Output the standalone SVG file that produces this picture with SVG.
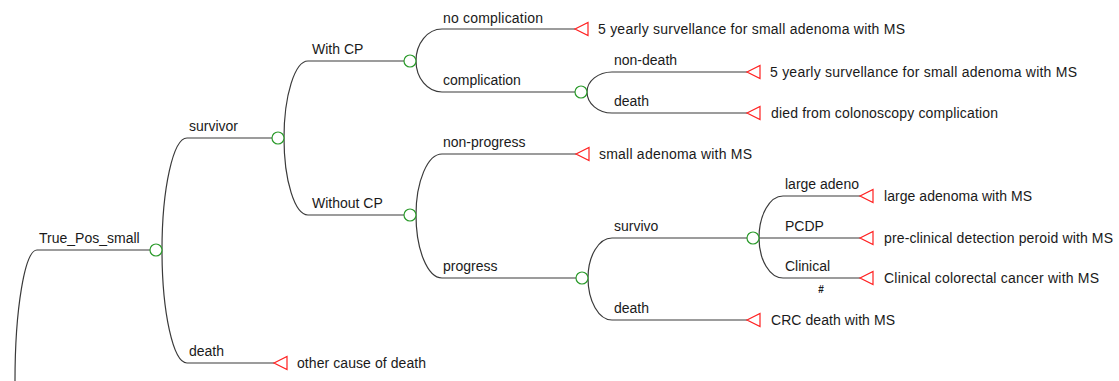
<svg xmlns="http://www.w3.org/2000/svg" width="1119" height="381" viewBox="0 0 1119 381">
<style>
.e{fill:none;stroke:#3a3a3a;stroke-width:1.2}
.c{fill:#fff;stroke:#2a9a2a;stroke-width:1.2}
.t{fill:#fff;stroke:#ff2020;stroke-width:1.2}
text{font-family:"Liberation Sans",Arial,sans-serif;font-size:14px;fill:#1a1a1a}
.h{font-size:10px;font-weight:bold;text-anchor:middle}
</style>
<defs>
<circle id="chance" r="6" class="c"/>
<path id="term" d="M0,0 L13,-6.5 L13,6.5 Z" class="t"/>
</defs>
<rect width="1119" height="381" fill="#fff"/>
<g id="connectors">
<path class="e" d="M15,381 C15,308.7 24.9,250 37,250 L150,250"/>
<path class="e" d="M162,250 C162,188.2 173.2,138 187,138 L272,138"/>
<path class="e" d="M162,250 C162,312.4 173.2,363 187,363 L274,363"/>
<path class="e" d="M284,138 C284,95.5 294.8,61 308,61 L404,61"/>
<path class="e" d="M284,138 C284,180.5 294.8,215 308,215 L404,215"/>
<path class="e" d="M416,61 C416,43.3 427.6,29 442,29 L575,29"/>
<path class="e" d="M416,61 C416,78.1 427.6,92 442,92 L575,92"/>
<path class="e" d="M587,92 C587,81 598.2,72 612,72 L747,72"/>
<path class="e" d="M587,92 C587,103.6 598.2,113 612,113 L747,113"/>
<path class="e" d="M416,215 C416,181.3 427.6,154 442,154 L576,154"/>
<path class="e" d="M416,215 C416,249.8 427.6,278 442,278 L576,278"/>
<path class="e" d="M588,278 C588,255.9 598.8,238 612,238 L747,238"/>
<path class="e" d="M588,278 C588,301.2 598.8,320 612,320 L747,320"/>
<path class="e" d="M759,238 C759,214.8 769.8,196 783,196 L860,196"/>
<path class="e" d="M759,238 L860,238"/>
<path class="e" d="M759,238 C759,260.1 769.8,278 783,278 L860,278"/>
<text x="39" y="243">True_Pos_small</text>
<text x="189" y="131">survivor</text>
<text x="189" y="356">death</text>
<text x="312" y="54">With CP</text>
<text x="312" y="208">Without CP</text>
<text x="443" y="22.5" textLength="100">no complication</text>
<text x="443" y="85">complication</text>
<text x="614" y="64.5">non-death</text>
<text x="614" y="105.5">death</text>
<text x="443" y="147">non-progress</text>
<text x="443" y="271">progress</text>
<text x="614" y="231">survivo</text>
<text x="614" y="313">death</text>
<text x="785" y="189">large adeno</text>
<text x="785" y="231">PCDP</text>
<text x="785" y="271">Clinical</text>
<text class="h" x="821" y="293">#</text>
</g>
<g id="n-root"><use href="#chance" x="156" y="250"/></g>
<g id="n-survivor"><use href="#chance" x="278" y="138"/></g>
<g id="n-death1"><use href="#term" x="274" y="363"/><text x="297" y="368" textLength="129">other cause of death</text></g>
<g id="n-withcp"><use href="#chance" x="410" y="61"/></g>
<g id="n-withoutcp"><use href="#chance" x="410" y="215"/></g>
<g id="n-nocomp"><use href="#term" x="575" y="29"/><text x="598" y="34" textLength="307">5 yearly survellance for small adenoma with MS</text></g>
<g id="n-comp"><use href="#chance" x="581" y="92"/></g>
<g id="n-nondeath"><use href="#term" x="747" y="72"/><text x="770" y="77" textLength="307">5 yearly survellance for small adenoma with MS</text></g>
<g id="n-death2"><use href="#term" x="747" y="113"/><text x="771" y="118" textLength="227">died from colonoscopy complication</text></g>
<g id="n-nonprog"><use href="#term" x="576" y="154"/><text x="599" y="159" textLength="153">small adenoma with MS</text></g>
<g id="n-prog"><use href="#chance" x="582" y="278"/></g>
<g id="n-survivo"><use href="#chance" x="753" y="238"/></g>
<g id="n-death3"><use href="#term" x="747" y="320"/><text x="771" y="325" textLength="124">CRC death with MS</text></g>
<g id="n-large"><use href="#term" x="860" y="196"/><text x="884" y="201" textLength="148">large adenoma with MS</text></g>
<g id="n-pcdp"><use href="#term" x="860" y="238"/><text x="884" y="243" textLength="229">pre-clinical detection peroid with MS</text></g>
<g id="n-clinical"><use href="#term" x="860" y="278"/><text x="884" y="283" textLength="215">Clinical colorectal cancer with MS</text></g>
</svg>
